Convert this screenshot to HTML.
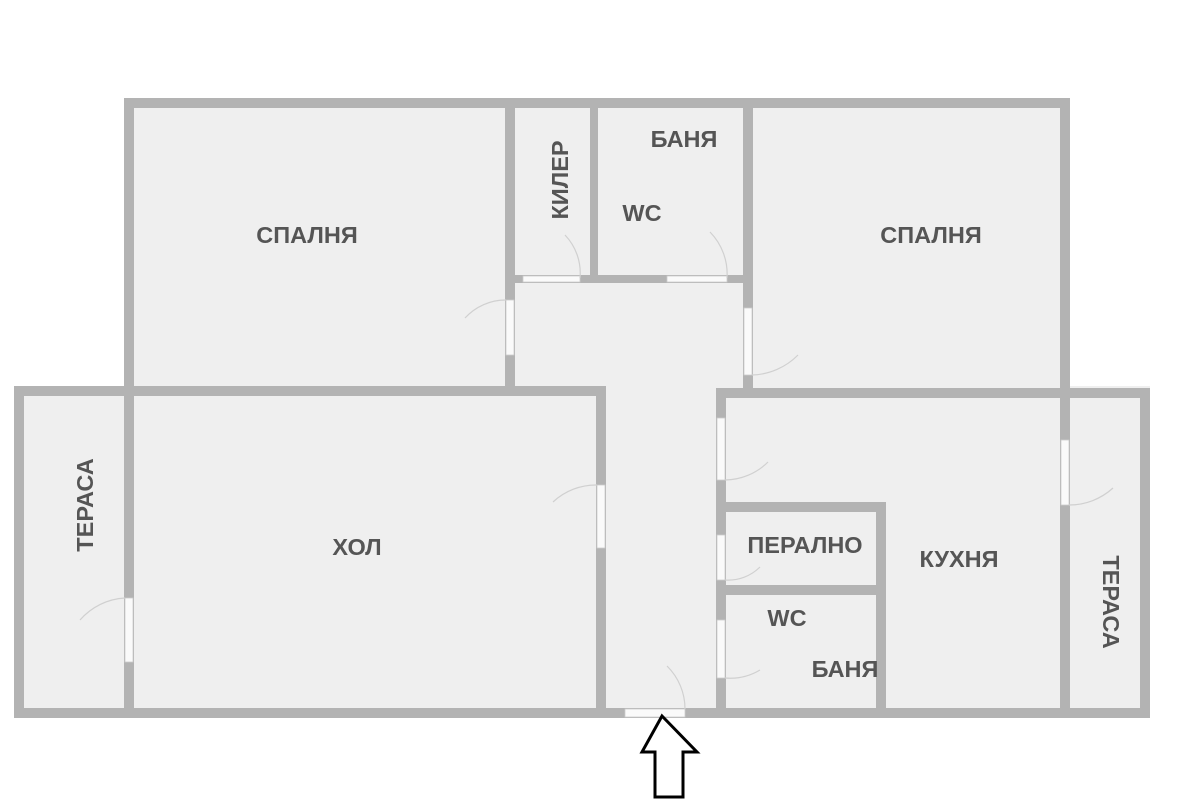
<!DOCTYPE html><html><head><style>body{margin:0;background:#fff}svg{display:block}</style></head><body>
<svg width="1200" height="800" xmlns="http://www.w3.org/2000/svg" font-family="Liberation Sans, sans-serif" font-weight="bold" font-size="23.5" fill="#555">
<rect x="0" y="0" width="1200" height="800" fill="#fff"/>
<rect x="124" y="98" width="946" height="292" fill="#efefef"/>
<rect x="14" y="386" width="1136" height="332" fill="#efefef"/>
<g fill="#b3b3b3">
<rect x="124" y="98" width="946" height="10"/>
<rect x="124" y="98" width="10" height="296"/>
<rect x="1060" y="98" width="10" height="296"/>
<rect x="505" y="98" width="10" height="296"/>
<rect x="590" y="98" width="8" height="185"/>
<rect x="743" y="98" width="10" height="296"/>
<rect x="505" y="275" width="248" height="8"/>
<rect x="14" y="386" width="592" height="10"/>
<rect x="14" y="386" width="10" height="332"/>
<rect x="124" y="386" width="10" height="332"/>
<rect x="596" y="386" width="10" height="332"/>
<rect x="14" y="708" width="1136" height="10"/>
<rect x="716" y="388" width="434" height="10"/>
<rect x="716" y="388" width="10" height="330"/>
<rect x="1060" y="388" width="10" height="330"/>
<rect x="1140" y="388" width="10" height="330"/>
<rect x="716" y="502" width="170" height="10"/>
<rect x="716" y="585" width="170" height="10"/>
<rect x="876" y="502" width="10" height="216"/>
</g>
<g fill="#fafafa" stroke="#ccc" stroke-width="0.8">
<rect x="523" y="276" width="57" height="6"/>
<rect x="667" y="276" width="60" height="6"/>
<rect x="506" y="300" width="8" height="55"/>
<rect x="744" y="308" width="8" height="67"/>
<rect x="125" y="598" width="8" height="64"/>
<rect x="597" y="485" width="8" height="63"/>
<rect x="717" y="418" width="8" height="62"/>
<rect x="717" y="535" width="8" height="45"/>
<rect x="717" y="620" width="8" height="58"/>
<rect x="1061" y="440" width="8" height="65"/>
<rect x="625" y="709" width="60" height="8"/>
</g>
<g fill="none" stroke="#d0d0d0" stroke-width="1.2">
<path d="M580 278 A55 55 0 0 0 565 235"/>
<path d="M727 278 A60 60 0 0 0 710 232"/>
<path d="M506 300 A55 55 0 0 0 465 318"/>
<path d="M752 375 A67 67 0 0 0 798 355"/>
<path d="M125 598 A64 64 0 0 0 80 620"/>
<path d="M597 485 A63 63 0 0 0 553 502"/>
<path d="M725 480 A62 62 0 0 0 768 462"/>
<path d="M725 580 A45 45 0 0 0 760 567"/>
<path d="M725 678 A58 58 0 0 0 760 670"/>
<path d="M1069 505 A65 65 0 0 0 1113 488"/>
<path d="M685 709 A60 60 0 0 0 667 666"/>
</g>
<path d="M662 716 L697 752 L683 752 L683 797 L655 797 L655 752 L642 752 Z" fill="#fff" stroke="#000" stroke-width="3" stroke-linejoin="miter"/>
<g text-anchor="middle">
<text x="307" y="243">СПАЛНЯ</text>
<text x="931" y="243">СПАЛНЯ</text>
<text x="684" y="147">БАНЯ</text>
<text x="642" y="221">WC</text>
<text x="357" y="555">ХОЛ</text>
<text x="805" y="553">ПЕРАЛНО</text>
<text x="959" y="567">КУХНЯ</text>
<text x="787" y="626">WC</text>
<text x="845" y="677">БАНЯ</text>
<text transform="translate(568,180) rotate(-90)">КИЛЕР</text>
<text transform="translate(93,505) rotate(-90)">ТЕРАСА</text>
<text transform="translate(1103,602) rotate(90)">ТЕРАСА</text>
</g>
</svg>
</body></html>
